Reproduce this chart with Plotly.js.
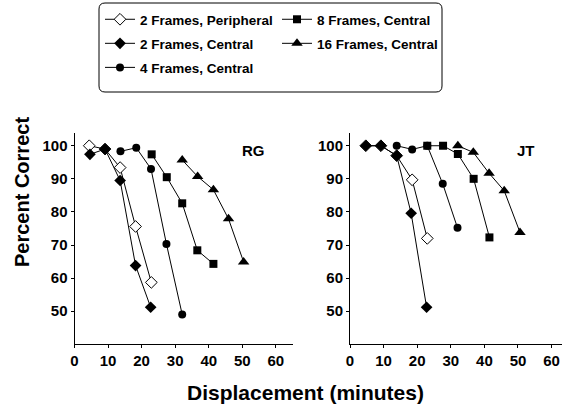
<!DOCTYPE html>
<html>
<head>
<meta charset="utf-8">
<script src="https://cdn.plot.ly/plotly-3.0.1.min.js"></script>
<style>html,body{margin:0;padding:0;background:#fff;}#chart{width:563px;height:405px;}</style>
</head>
<body>
<div id="chart"></div>
<script>
// ---- Data ----
const seriesNames = ["2 Frames, Peripheral", "2 Frames, Central", "4 Frames, Central", "8 Frames, Central", "16 Frames, Central"];
const panelLabels = ["RG", "JT"];
const xTicks = [0, 10, 20, 30, 40, 50, 60];
const yTicks = [50, 60, 70, 80, 90, 100];

// RG (left panel)
const rgPeriX = [4.4, 9.1, 13.6, 18.2, 22.9];
const rgPeriY = [100, 99, 93.4, 75.6, 58.7];
const rgC2X = [4.6, 9.1, 13.6, 18.2, 22.7];
const rgC2Y = [97.4, 99, 89.5, 63.8, 51.2];
const rgC4X = [13.7, 18.4, 22.8, 27.4, 32.1];
const rgC4Y = [98.3, 99.4, 93, 70.3, 49];
const rgC8X = [23, 27.5, 32.1, 36.6, 41.4];
const rgC8Y = [97.4, 90.5, 82.6, 68.4, 64.3];
const rgC16X = [32.1, 36.7, 41.4, 45.9, 50.4];
const rgC16Y = [95.7, 90.7, 86.7, 77.9, 64.9];

// JT (right panel)
const jtPeriX = [4.7, 9.2, 13.9, 18.5, 23];
const jtPeriY = [100, 100, 97, 89.7, 72];
const jtC2X = [4.7, 9.2, 13.9, 18.2, 22.8];
const jtC2Y = [100, 100, 97, 79.6, 51.2];
const jtC4X = [13.9, 18.5, 23, 27.6, 32];
const jtC4Y = [100, 98.9, 100, 88.5, 75.2];
const jtC8X = [23, 27.7, 32.1, 36.8, 41.5];
const jtC8Y = [100, 100, 97.5, 90, 72.3];
const jtC16X = [32.1, 36.7, 41.4, 45.9, 50.6];
const jtC16Y = [100, 98, 91.7, 86.4, 73.8];

// ---- Styles ----
const FONT = "Liberation Sans, Arial, Helvetica, sans-serif";
const W = 563, H = 405;
const markerStyles = [
  {symbol: "diamond", size: 9, color: "#ffffff", line: {color: "#000", width: 1}},
  {symbol: "diamond", size: 9, color: "#000", line: {color: "#000", width: 0}},
  {symbol: "circle", size: 8, color: "#000", line: {color: "#000", width: 0}},
  {symbol: "square", size: 8, color: "#000", line: {color: "#000", width: 0}},
  {symbol: "triangle-up", size: 10, color: "#000", line: {color: "#000", width: 0}}
];
const legendOf = ["legend", "legend", "legend", "legend2", "legend2"];

const rgData = [[rgPeriX, rgPeriY], [rgC2X, rgC2Y], [rgC4X, rgC4Y], [rgC8X, rgC8Y], [rgC16X, rgC16Y]];
const jtData = [[jtPeriX, jtPeriY], [jtC2X, jtC2Y], [jtC4X, jtC4Y], [jtC8X, jtC8Y], [jtC16X, jtC16Y]];

const traces = [];
[rgData, jtData].forEach((panel, p) => {
  panel.forEach((d, i) => {
    traces.push({
      type: "scatter", mode: "lines+markers",
      x: d[0], y: d[1],
      name: seriesNames[i],
      legend: legendOf[i],
      legendgroup: "g" + i,
      showlegend: p === 0,
      xaxis: p === 0 ? "x" : "x2",
      yaxis: p === 0 ? "y" : "y2",
      line: {color: "#000", width: 1},
      marker: markerStyles[i],
      cliponaxis: false
    });
  });
});

function px2x(px) { return px / W; }
function py2y(py) { return 1 - py / H; }

const xCommon = {
  range: [0, 65], tickvals: xTicks, ticktext: xTicks.map(String),
  showline: true, linecolor: "#000", linewidth: 1, showgrid: false, zeroline: false,
  ticks: "outside", ticklen: 3, tickcolor: "#000", tickwidth: 1,
  tickfont: {family: FONT, size: 15, color: "#000", weight: "bold"},
  ticklabelstandoff: 0, fixedrange: true
};
const yCommon = {
  range: [40, 104], tickvals: yTicks, ticktext: yTicks.map(String),
  showline: true, linecolor: "#000", linewidth: 1, showgrid: false, zeroline: false,
  ticks: "outside", ticklen: 3, tickcolor: "#000", tickwidth: 1,
  tickfont: {family: FONT, size: 15, color: "#000", weight: "bold"},
  domain: [py2y(344.3), py2y(132.5)], fixedrange: true
};

const bx0 = 99, bx1 = 442, by0 = 3, by1 = 92, r = 6;
const boxPath = "M " + px2x(bx0 + r) + " " + py2y(by0) +
  " L " + px2x(bx1 - r) + " " + py2y(by0) +
  " Q " + px2x(bx1) + " " + py2y(by0) + " " + px2x(bx1) + " " + py2y(by0 + r) +
  " L " + px2x(bx1) + " " + py2y(by1 - r) +
  " Q " + px2x(bx1) + " " + py2y(by1) + " " + px2x(bx1 - r) + " " + py2y(by1) +
  " L " + px2x(bx0 + r) + " " + py2y(by1) +
  " Q " + px2x(bx0) + " " + py2y(by1) + " " + px2x(bx0) + " " + py2y(by1 - r) +
  " L " + px2x(bx0) + " " + py2y(by0 + r) +
  " Q " + px2x(bx0) + " " + py2y(by0) + " " + px2x(bx0 + r) + " " + py2y(by0) + " Z";

const legendCommon = {
  orientation: "v", xanchor: "left", yanchor: "top",
  bgcolor: "rgba(0,0,0,0)", borderwidth: 0,
  font: {family: FONT, size: 13.5, color: "#000", weight: "bold"},
  tracegroupgap: 3.5, itemwidth: 30, itemclick: false, itemdoubleclick: false
};

const layout = {
  width: W, height: H,
  margin: {l: 0, r: 0, t: 0, b: 0},
  paper_bgcolor: "#fff", plot_bgcolor: "#fff",
  showlegend: true,
  font: {family: FONT, color: "#000"},
  xaxis: Object.assign({}, xCommon, {domain: [px2x(74.5), px2x(292.6)], anchor: "y"}),
  yaxis: Object.assign({}, yCommon, {anchor: "x"}),
  xaxis2: Object.assign({}, xCommon, {domain: [px2x(350), px2x(562)], range: [0, 63.1], anchor: "y2"}),
  yaxis2: Object.assign({}, yCommon, {anchor: "x2"}),
  legend: Object.assign({}, legendCommon, {x: px2x(100), y: py2y(4)}),
  legend2: Object.assign({}, legendCommon, {x: px2x(277), y: py2y(4)}),
  shapes: [{type: "path", xref: "paper", yref: "paper", path: boxPath, line: {color: "#000", width: 1}}],
  annotations: [
    {text: panelLabels[0], xref: "paper", yref: "paper", x: px2x(253), y: py2y(150), xanchor: "center", yanchor: "middle", showarrow: false,
     font: {family: FONT, size: 15, color: "#000", weight: "bold"}},
    {text: panelLabels[1], xref: "paper", yref: "paper", x: px2x(526), y: py2y(150), xanchor: "center", yanchor: "middle", showarrow: false,
     font: {family: FONT, size: 15, color: "#000", weight: "bold"}},
    {text: "Displacement (minutes)", xref: "paper", yref: "paper", x: px2x(305), y: py2y(392), xanchor: "center", yanchor: "middle", showarrow: false,
     font: {family: FONT, size: 21, color: "#000", weight: "bold"}},
    {text: "Percent Correct", xref: "paper", yref: "paper", x: px2x(22), y: py2y(192), xanchor: "center", yanchor: "middle", showarrow: false, textangle: -90,
     font: {family: FONT, size: 20, color: "#000", weight: "bold"}}
  ]
};

Plotly.newPlot("chart", traces, layout, {staticPlot: true, displayModeBar: false});
</script>
</body>
</html>
